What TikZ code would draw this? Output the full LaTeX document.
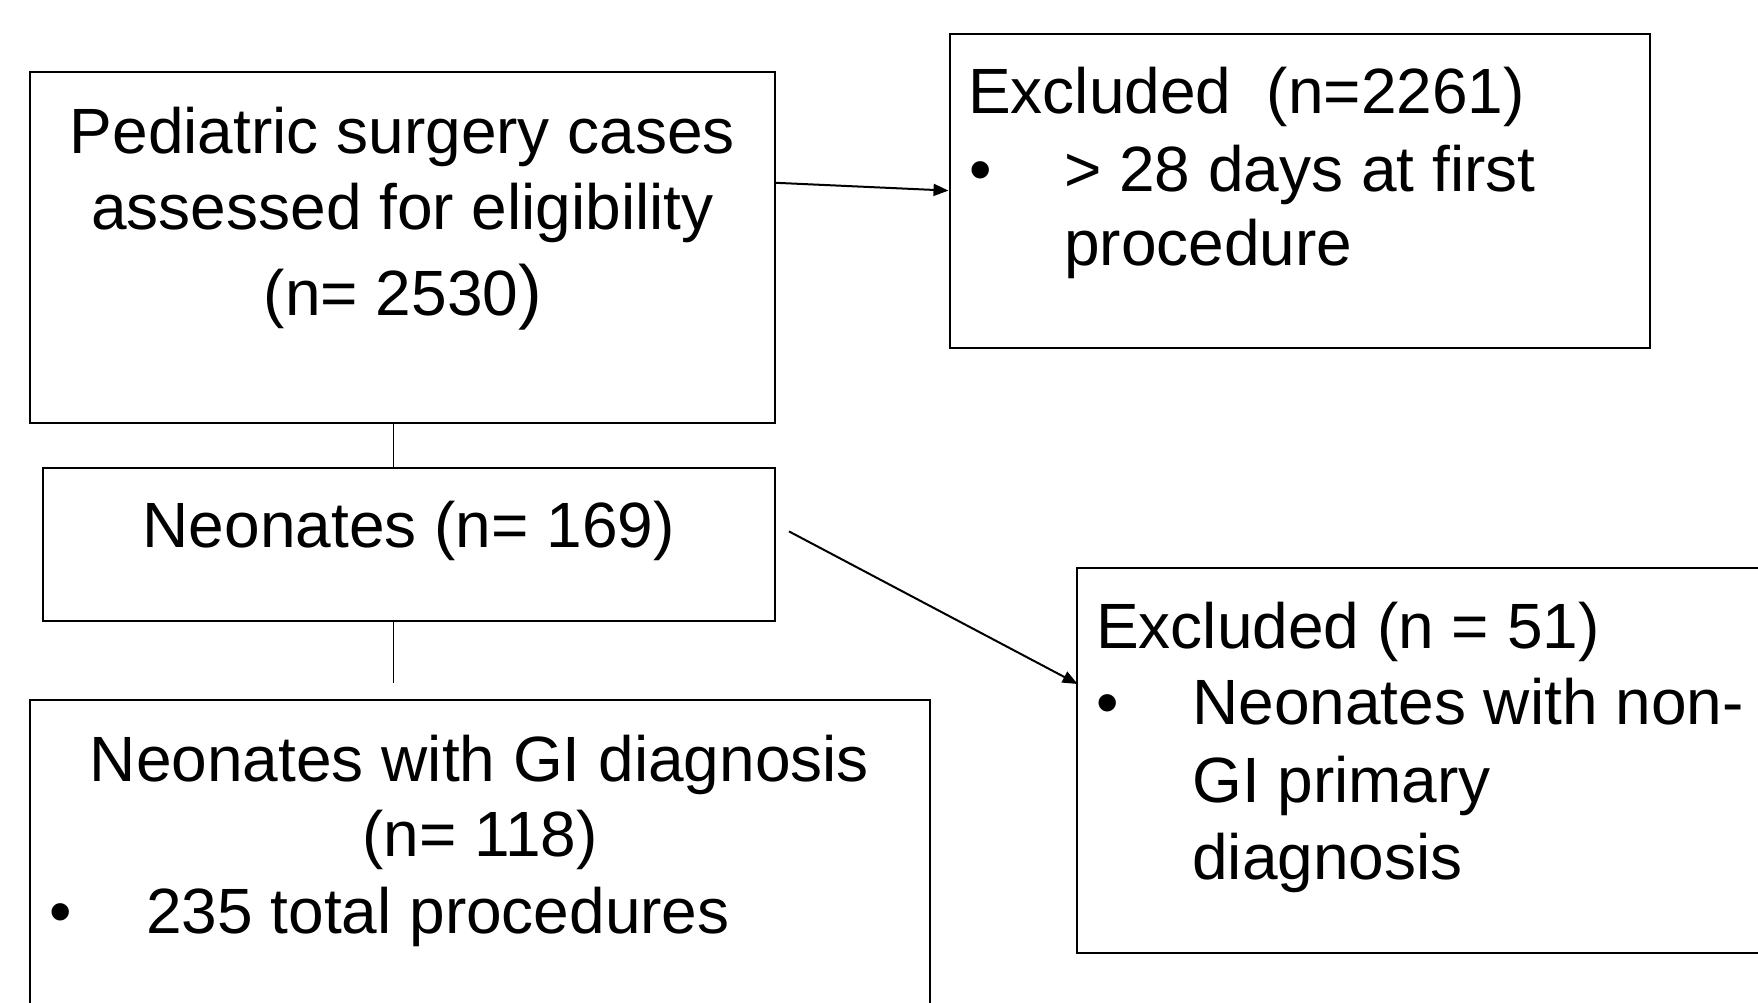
\documentclass[tikz,border=0pt]{standalone}
\usepackage{fontspec}
\setmainfont{Liberation Sans}
\usetikzlibrary{arrows.meta}
\begin{document}
\begin{tikzpicture}[x=1pt,y=-1pt,
  box/.style={draw=black, line width=2pt, inner sep=0pt, rectangle},
  txt/.style={inner sep=0pt, font=\fontsize{64}{76}\selectfont},
  lft/.style={txt, anchor=base west},
  ctr/.style={txt, anchor=base},
  conn/.style={line width=1.6pt},
  arr/.style={line width=2pt, -{Triangle[length=15pt,width=12pt]}}]
\useasboundingbox (0,0) rectangle (1758,1003);
\clip (0,0) rectangle (1758,1003);
\fill[white] (0,0) rectangle (1758,1003);

% boxes
\node[box, minimum width=744.5pt, minimum height=350.9pt] (b1) at (402.55,247.25) {};
\node[box, minimum width=700pt, minimum height=314pt] (x1) at (1299.5,190.6) {};
\node[box, minimum width=732.2pt, minimum height=153.6pt] (n) at (408.7,544.3) {};
\node[box, minimum width=899.2pt, minimum height=340.4pt] (gi) at (479.9,869.8) {};
\node[box, minimum width=723.4pt, minimum height=384.3pt] (x2) at (1438.3,760.35) {};

% texts: box 1
\node[ctr] (t1a) at (402.5,153.3) {Pediatric surgery cases};
\node[ctr] (t1b) at (402.5,229.3) {assessed for eligibility};
\node[ctr] (t1c) at (403,315) {(n= 2530{\fontsize{71}{76}\selectfont )}};

% excluded 1
\node[lft] (e1a) at (968,113.3) {Excluded\ \ (n=2261)};
\node[lft] (e1b) at (969,191.7) {•};
\node[lft] (e1c) at (1064,191.7) {> 28 days at first};
\node[lft] (e1d) at (1064,265) {procedure};

% neonates
\node[ctr] (tn) at (408.7,547.3) {Neonates (n= 169)};

% GI
\node[ctr] (g1) at (479.5,781.5) {Neonates with GI diagnosis};
\node[ctr] (g2) at (480,856.5) {(n= 118)};
\node[lft] (g3) at (49,933.5) {•};
\node[lft] (g4) at (146,933.5) {235 total procedures};

% excluded 2
\node[lft] (e2a) at (1096,648.3) {Excluded (n = 51)};
\node[lft] (e2b) at (1096,724.5) {•};
\node[lft] (e2c) at (1192,724.5) {Neonates with non-};
\node[lft] (e2d) at (1192,802) {GI primary};
\node[lft] (e2e) at (1192,879) {diagnosis};

% connectors
\coordinate (l2end) at (393.5,683.4);
\draw[conn] ([xshift=-9.05pt]b1.south) -- ([xshift=-9.05pt]b1.south |- n.north);
\draw[conn] ([xshift=-15.2pt]n.south) -- (l2end);
\draw[arr] ([yshift=64.45pt]b1.east) -- (x1.west);
\draw[arr] ([xshift=13.2pt,yshift=12.9pt]n.east) -- ([xshift=2pt,yshift=76.35pt]x2.west);
\end{tikzpicture}
\end{document}
